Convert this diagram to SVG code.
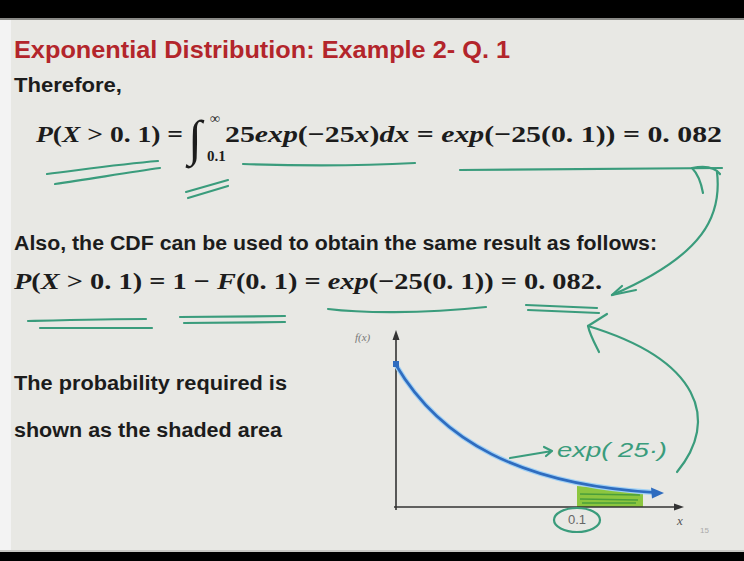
<svg xmlns="http://www.w3.org/2000/svg" width="744" height="561" viewBox="0 0 744 561">
<defs>
<style>
.sans{font-family:"Liberation Sans","Open Sans",sans-serif;font-weight:bold;fill:#1c1c1c}
.math{font-family:"Liberation Serif","DejaVu Serif",serif;font-weight:bold;fill:#1c1c1c}
.it{font-style:italic}
.ink{fill:none;stroke:#3a9c7c;stroke-width:2.2;stroke-linecap:round;stroke-linejoin:round}
.axis{fill:none;stroke:#333;stroke-width:1.6}
</style>
</defs>
<rect x="0" y="0" width="744" height="561" fill="#e8e8e4"/>
<rect x="0" y="18" width="11" height="534" fill="#f3f3f3"/>
<rect x="0" y="0" width="744" height="18" fill="#000"/>
<rect x="0" y="18" width="744" height="2" fill="#8a8a86"/>
<rect x="0" y="552" width="744" height="9" fill="#000"/>
<rect x="0" y="550" width="744" height="2" fill="#c8c8c4"/>

<g id="title">
<text x="14" y="58" font-family="Liberation Sans, Open Sans, sans-serif" font-weight="bold" font-size="24" fill="#b3252b" textLength="496" lengthAdjust="spacingAndGlyphs">Exponential Distribution: Example 2- Q. 1</text>
</g>
<g id="therefore">
<text class="sans" x="14" y="92" font-size="20" textLength="108" lengthAdjust="spacingAndGlyphs">Therefore,</text>
</g>
<g id="equation1">
<text class="math" x="36" y="142" font-size="24" textLength="147" lengthAdjust="spacingAndGlyphs"><tspan class="it">P</tspan>(<tspan class="it">X</tspan> &gt; 0. 1) =</text>
<text class="math" x="188" y="155" font-size="50" font-weight="normal">∫</text>
<text class="math" x="210" y="123" font-size="14" font-weight="normal">∞</text>
<text class="math" x="207" y="161" font-size="15">0.1</text>
<text class="math" x="225" y="142" font-size="24" textLength="497" lengthAdjust="spacingAndGlyphs">25<tspan class="it">exp</tspan>(−25<tspan class="it">x</tspan>)<tspan class="it">dx</tspan> = <tspan class="it">exp</tspan>(−25(0. 1)) = 0. 082</text>
</g>
<g id="also">
<text class="sans" x="14" y="250" font-size="20" textLength="643" lengthAdjust="spacingAndGlyphs">Also, the CDF can be used to obtain the same result as follows:</text>
</g>
<g id="equation2">
<text class="math" x="14" y="289" font-size="24" textLength="588" lengthAdjust="spacingAndGlyphs"><tspan class="it">P</tspan>(<tspan class="it">X</tspan> &gt; 0. 1) = 1 − <tspan class="it">F</tspan>(0. 1) = <tspan class="it">exp</tspan>(−25(0. 1)) = 0. 082.</text>
</g>
<g id="caption">
<text class="sans" x="14" y="390" font-size="20" textLength="273" lengthAdjust="spacingAndGlyphs">The probability required is</text>
<text class="sans" x="14" y="437" font-size="20" textLength="268" lengthAdjust="spacingAndGlyphs">shown as the shaded area</text>
</g>

<g id="graph">
<polygon points="577,486 600,488 620,490 643,491 643,507 577,507" fill="#8cc63f"/>
<path d="M580,494 L640,495 M580,499 L638,500 M582,503 L636,503" stroke="#4a9e3a" stroke-width="1.3" fill="none"/>
<line class="axis" x1="396" y1="510" x2="396" y2="338"/>
<polygon points="396,330 392.5,340 399.5,340" fill="#333"/>
<line class="axis" x1="394" y1="507" x2="676" y2="507"/>
<polygon points="684,507 674,503.5 674,510.5" fill="#333"/>
<path d="M396,365 C440,440 520,485 656,492.6" fill="none" stroke="#9fd0f5" stroke-width="5"/>
<path d="M396,365 C440,440 520,485 656,492.6" fill="none" stroke="#2f6cbf" stroke-width="2.6"/>
<polygon points="664,493 651,487.5 652,498.5" fill="#2f6cbf"/>
<rect x="393" y="361" width="6" height="6" fill="#2f6cbf"/>
<text x="355" y="341" font-family="Liberation Serif, serif" font-style="italic" font-size="11" fill="#777">f(x)</text>
<text x="677" y="525" font-family="Liberation Serif, serif" font-style="italic" font-size="13" fill="#555">x</text>
<text x="700" y="533" font-family="Liberation Sans, sans-serif" font-size="8" fill="#aaa">15</text>
<text x="577" y="524" font-family="Liberation Sans, sans-serif" font-size="13" fill="#666" text-anchor="middle">0.1</text>
</g>

<g id="annotations">
<path class="ink" d="M47,174 C80,170 120,164 158,161"/>
<path class="ink" d="M55,184 C90,179 130,172 160,168"/>
<path class="ink" d="M186,192 L228,180"/>
<path class="ink" d="M188,198 L228,186"/>
<path class="ink" d="M243,164 C300,166 360,166 415,163"/>
<path class="ink" d="M460,170 C560,169 650,168 722,168"/>
<path class="ink" d="M28,321 C70,320 110,319 146,319"/>
<path class="ink" d="M40,328 C80,328 120,328 152,328"/>
<path class="ink" d="M180,317 L285,316"/>
<path class="ink" d="M184,323 L285,322"/>
<path class="ink" d="M328,309 C360,313 420,314 486,307"/>
<path class="ink" d="M526,305 L597,308"/>
<path class="ink" d="M528,310 L599,313"/>
<path class="ink" d="M717,172 C722,215 705,255 612,295"/>
<path class="ink" d="M612,295 L636,290 M612,295 L622,286"/>
<path class="ink" d="M703,193 C701,182 697,173 692,168 C702,166 714,166 720,174"/>
<path class="ink" d="M677,472 C720,420 700,360 588,326"/>
<path class="ink" d="M588,326 L607,314 M588,326 C590,335 595,344 599,352"/>
<ellipse class="ink" cx="577" cy="520" rx="23" ry="12"/>
<path class="ink" d="M510,458 L552,451 M544,447 L552,451 L546,456"/>
<text x="557" y="457" font-family="Liberation Sans, sans-serif" font-style="italic" font-size="20" fill="#3a9c7c" textLength="110" lengthAdjust="spacingAndGlyphs">exp( 25·)</text>
</g>
</svg>
